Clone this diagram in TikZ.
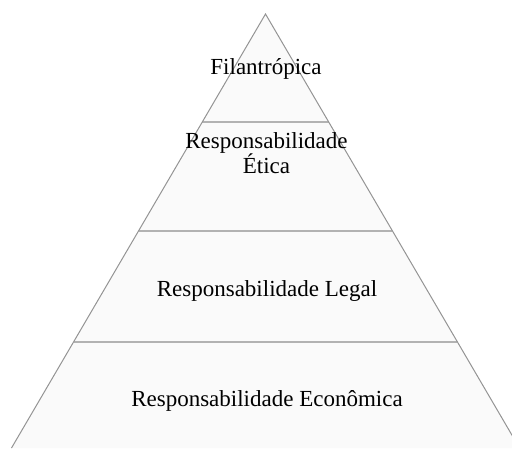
\documentclass[tikz,border=0pt]{standalone}
\usepackage{fontspec}
\setmainfont{Liberation Serif}
\begin{document}
\begin{tikzpicture}[x=1pt,y=1pt,
  edge/.style={draw=black!42,line width=1pt},
  divider/.style={draw=black!30,line width=1.3pt},
  label/.style={font=\fontsize{23}{24}\selectfont,anchor=base,inner sep=0pt,align=center}]
  \useasboundingbox (0,0) rectangle (512,448);
  \clip (0,0) rectangle (512,448);
  % pyramid outline: apex and base corners
  \coordinate (apex) at (265.5,434);
  \coordinate (baseL) at (11.5,0);
  \coordinate (baseR) at (519.5,0);
  % dividers between the levels (half-width 0.585 per unit of drop)
  \foreach \y/\n in {122/one,231/two,342/three}{
    \pgfmathsetmacro{\hw}{0.585*(\y-14)}
    \coordinate (\n-L) at ({265.5-\hw},{448-\y});
    \coordinate (\n-R) at ({265.5+\hw},{448-\y});
  }
  \fill[white!98!black] (apex) -- (baseL) -- (baseR) -- cycle;
  \draw[divider] (one-L) -- (one-R);
  \draw[divider] (two-L) -- (two-R);
  \draw[divider] (three-L) -- (three-R);
  \draw[edge] (baseL) -- (apex) -- (baseR);
  % level labels
  \node[label] (filan) at (266,448-75) {Filantrópica};
  \node[label] (etica) at (266.5,448-174) {Responsabilidade\\Ética};
  \node[label] (legal) at (267,448-297) {Responsabilidade Legal};
  \node[label] (econ) at (267,448-406) {Responsabilidade Econômica};
\end{tikzpicture}
\end{document}
